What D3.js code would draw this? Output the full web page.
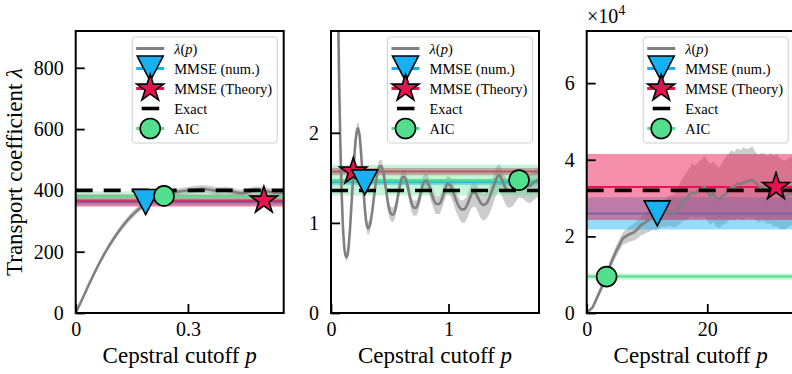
<!DOCTYPE html>
<html><head><meta charset="utf-8">
<script src="https://cdn.jsdelivr.net/npm/d3@7"></script>
<style>
html,body{margin:0;padding:0;background:#fff;}
svg{display:block;}
svg text{font-family:"Liberation Serif","Times New Roman",serif !important;}
</style></head><body>
<svg id="chart" width="792" height="374"></svg>
<script>
// ---- System 1: λ(p) with its confidence band ----
const p1   = [0,0.02,0.04,0.06,0.08,0.10,0.12,0.14,0.16,0.18,0.20,0.22,0.24,0.26,0.28,0.30,0.32,0.34,0.36,0.38,0.40,0.42,0.44,0.46,0.48,0.50,0.52,0.54,0.556];
const lam1 = [0,52,105,155,200,240,275,305,330,350,364,376,386,392,397,400,403,405,402,398,400,396,391,394,401,399,395,392,393];
const lo1  = [0,48,99,148,192,231,265,294,319,339,353,365,375,381,386,389,391,393,390,386,388,384,379,382,389,387,383,380,381];
const hi1  = [0,56,111,162,208,249,285,316,341,361,375,387,397,403,408,411,415,417,414,410,412,408,403,406,413,411,407,404,405];

// ---- System 2 ----
const p2   = [0.04,0.05,0.06,0.07,0.08,0.09,0.10,0.11,0.12,0.133,0.145,0.16,0.175,0.19,0.205,0.22,0.231,0.245,0.26,0.275,
              0.29,0.30,0.315,0.33,0.35,0.37,0.39,0.41,0.428,0.445,0.465,0.485,0.505,0.527,0.55,0.57,0.59,0.61,0.625,0.645,
              0.665,0.685,0.705,0.724,0.745,0.765,0.785,0.809,0.83,0.85,0.87,0.895,0.921,0.945,0.97,0.99,1.015,1.04,1.065,1.09,
              1.11,1.13,1.155,1.18,1.2,1.225,1.25,1.275,1.3,1.33,1.36,1.39,1.41,1.43,1.455,1.48,1.51,1.54,1.57,1.6,
              1.63,1.66,1.69,1.72,1.75,1.77];
const lam2 = [6.0,4.6,3.4,2.5,1.85,1.35,1.0,0.78,0.66,0.62,0.68,0.9,1.22,1.55,1.85,2.02,2.05,1.95,1.7,1.4,
              1.13,1.01,0.94,0.97,1.12,1.33,1.52,1.62,1.63,1.56,1.4,1.22,1.11,1.09,1.16,1.3,1.44,1.51,1.51,1.45,
              1.33,1.22,1.17,1.17,1.23,1.34,1.44,1.47,1.43,1.35,1.27,1.21,1.21,1.27,1.37,1.43,1.42,1.34,1.25,1.18,
              1.15,1.15,1.19,1.27,1.33,1.34,1.28,1.22,1.2,1.23,1.32,1.43,1.5,1.53,1.48,1.4,1.36,1.37,1.42,1.47,
              1.46,1.42,1.41,1.44,1.47,1.48];
const lo2  = [5.95,4.55,3.35,2.45,1.8,1.3,0.95,0.73,0.61,0.57,0.63,0.85,1.17,1.5,1.79,1.95,1.98,1.88,1.63,1.33,
              1.06,0.94,0.87,0.9,1.05,1.26,1.45,1.55,1.56,1.49,1.32,1.14,1.03,1.01,1.08,1.22,1.36,1.43,1.43,1.37,
              1.24,1.13,1.08,1.08,1.14,1.25,1.35,1.38,1.34,1.25,1.17,1.1,1.1,1.16,1.26,1.32,1.3,1.22,1.12,1.05,
              1.01,1.0,1.04,1.12,1.17,1.18,1.12,1.05,1.03,1.06,1.14,1.25,1.32,1.35,1.3,1.22,1.17,1.18,1.23,1.28,
              1.27,1.24,1.22,1.25,1.28,1.29];
const hi2  = [6.05,4.65,3.45,2.55,1.9,1.4,1.05,0.83,0.71,0.67,0.73,0.95,1.27,1.6,1.91,2.09,2.12,2.02,1.77,1.47,
              1.2,1.08,1.01,1.04,1.19,1.4,1.59,1.69,1.7,1.63,1.48,1.3,1.19,1.17,1.24,1.38,1.52,1.59,1.59,1.53,
              1.41,1.3,1.25,1.25,1.31,1.42,1.52,1.55,1.51,1.44,1.36,1.3,1.3,1.36,1.46,1.52,1.51,1.44,1.35,1.28,
              1.25,1.26,1.3,1.38,1.44,1.45,1.4,1.34,1.32,1.35,1.44,1.55,1.62,1.65,1.6,1.52,1.48,1.5,1.55,1.6,
              1.59,1.55,1.54,1.57,1.6,1.61];

// ---- System 3 ----
const p3   = [0,1,2,3,4,5,6,7,7.5,8,8.5,9,9.5,10,10.5,11,11.5,12,12.5,13,13.5,14,14.5,15,15.5,16,16.5,17,17.5,18,18.5,19,19.5,
              20,20.5,21,21.5,22,22.5,23,23.5,24,24.5,25,25.5,26,26.5,27,27.5,28,28.5,29,29.5,30,30.5,31,31.5,32,32.5,33,33.5,34,34.5];
const lam3 = [0,1500,5000,8500,13000,16500,19500,20500,20800,21200,22000,23000,23400,24000,24500,25000,24700,25500,26200,26000,26600,26300,26200,
              27000,27800,29200,29800,30800,31500,31200,32000,32200,33000,31800,30500,31200,30000,29500,30500,31000,32000,32800,33000,
              33800,33600,34000,34300,34500,34700,34000,33200,32800,33000,32500,32800,32000,32300,31500,30800,30500,31000,31200,31500];
const lo3  = [0,1000,4200,7500,11800,15000,17800,18500,18800,19000,19500,20300,20500,21000,21300,21800,21500,22000,22500,22300,22800,22500,22300,
              22800,23200,24000,24200,24800,25200,24600,25000,24800,25500,24000,23000,23800,22500,22200,23000,23200,24000,24500,24000,
              25000,24500,24200,24800,25000,24600,24200,23500,24000,23800,23200,23500,22500,22800,22000,21800,22000,22500,23000,23500];
const hi3  = [0,2000,5800,9500,14200,18000,21000,22500,23000,23500,24300,25200,25800,26500,27000,27800,27500,28500,29500,29500,30500,30800,31000,
              32500,34000,35500,36500,37800,39000,38500,39500,40000,41000,39800,38800,39500,38500,38000,39500,40500,41500,42500,42000,
              43000,42500,43200,42800,43000,43500,42000,41200,41800,41500,41000,41800,41000,41500,40500,40000,39800,40500,40800,41000];

// ---- Estimators (one entry per system) ----
const exactVal  = [400, 1.36, 32000];
const numP      = [0.187, 0.287, 11.7];
const numVal    = [362, 1.45, 26000];
const numErr    = [10, 0.03, 4200];
const theoP     = [0.503, 0.19, 31.4];
const theoVal   = [367, 1.57, 32900];
const theoErr   = [20, 0.04, 8600];
const aicP      = [0.236, 1.6, 3.3];
const aicVal    = [382, 1.475, 9500];
const aicErr    = [15, 0.17, 800];

// ---- Axes ----
const xMax   = [0.556, 1.77, 34.5];
const yMax   = [920, 3.13, 73600];
const xTicks = [[0, 0.3], [0, 1], [0, 20]];
const yTicks = [[0, 200, 400, 600, 800], [0, 1, 2], [0, 20000, 40000, 60000]];
const legendLabels = ["λ(p)", "MMSE (num.)", "MMSE (Theory)", "Exact", "AIC"];

const series = [
  {p: p1, lam: lam1, lo: lo1, hi: hi1, curve: d3.curveMonotoneX},
  {p: p2, lam: lam2, lo: lo2, hi: hi2, curve: d3.curveMonotoneX},
  {p: p3, lam: lam3, lo: lo3, hi: hi3, curve: d3.curveLinear}
];

const FONT = '"Liberation Serif", "Times New Roman", serif';
const C = {gray: "#808080", blue: "#17b0f0", red: "#e8124f", green: "#52e08e"};
const svg = d3.select("#chart");
const lefts = [75.7, 331, 586.7];
const W = 208, T = 31, B = 313;
const tri = "M-13,-12.5L13,-12.5L0,12.5Z";
const star = d3.symbol(d3.symbolStar, 225)();

function fmtTick(i) {
  if (i === 2) return v => d3.format("d")(v / 1e4);
  return v => String(v);
}

series.forEach((s, i) => {
  const x = d3.scaleLinear().domain([0, xMax[i]]).range([lefts[i], lefts[i] + W]);
  const y = d3.scaleLinear().domain([0, yMax[i]]).range([B, T]);
  const g = svg.append("g");

  g.append("clipPath").attr("id", "clip" + i)
    .append("rect").attr("x", x.range()[0]).attr("y", T).attr("width", W).attr("height", B - T);
  const plot = g.append("g").attr("clip-path", `url(#clip${i})`);

  const idx = d3.range(s.p.length);
  // band around λ(p)
  plot.append("path")
    .attr("d", d3.area().curve(s.curve).x(j => x(s.p[j])).y0(j => y(s.lo[j])).y1(j => y(s.hi[j]))(idx))
    .attr("fill", C.gray).attr("fill-opacity", 0.4);

  // horizontal estimator lines with their uncertainty bands
  const hband = (v, e, col, op) => {
    plot.append("rect").attr("x", x.range()[0]).attr("width", W)
      .attr("y", y(v + e)).attr("height", y(v - e) - y(v + e))
      .attr("fill", col).attr("fill-opacity", op);
  };
  const hline = (v, col) => {
    plot.append("line").attr("x1", x.range()[0]).attr("x2", x.range()[1])
      .attr("y1", y(v)).attr("y2", y(v)).attr("stroke", col).attr("stroke-width", 2);
  };
  hband(numVal[i], numErr[i], C.blue, 0.45);
  hline(numVal[i], C.blue);
  hband(theoVal[i], theoErr[i], C.red, 0.48);
  hline(theoVal[i], C.red);
  hband(aicVal[i], aicErr[i], C.green, 0.35);
  hline(aicVal[i], C.green);

  // λ(p)
  plot.append("path")
    .attr("d", d3.line().curve(s.curve).x(j => x(s.p[j])).y(j => y(s.lam[j]))(idx))
    .attr("fill", "none").attr("stroke", C.gray).attr("stroke-width", 2.6);

  // exact value
  plot.append("line").attr("x1", x.range()[0]).attr("x2", x.range()[1])
    .attr("y1", y(exactVal[i])).attr("y2", y(exactVal[i]))
    .attr("stroke", "#000").attr("stroke-width", 3.6).attr("stroke-dasharray", "17,11");

  // markers
  g.append("path").attr("d", star)
    .attr("transform", `translate(${x(theoP[i])},${y(theoVal[i])})`)
    .attr("fill", C.red).attr("stroke", "#000").attr("stroke-width", 1.6);
  g.append("path").attr("d", tri)
    .attr("transform", `translate(${x(numP[i])},${y(numVal[i])})`)
    .attr("fill", C.blue).attr("stroke", "#000").attr("stroke-width", 1.6);
  g.append("circle").attr("cx", x(aicP[i])).attr("cy", y(aicVal[i])).attr("r", 10)
    .attr("fill", C.green).attr("stroke", "#000").attr("stroke-width", 1.6);

  // axes (inward ticks)
  const ax = g.append("g").attr("transform", `translate(0,${B})`)
    .call(d3.axisBottom(x).tickValues(xTicks[i]).tickSize(-9).tickPadding(9).tickFormat(d => String(d)));
  const ay = g.append("g").attr("transform", `translate(${x.range()[0]},0)`)
    .call(d3.axisLeft(y).tickValues(yTicks[i]).tickSize(-9).tickPadding(12).tickFormat(fmtTick(i)));
  [ax, ay].forEach(a => {
    a.attr("font-family", FONT).attr("font-size", 20);
    a.select(".domain").remove();
    a.selectAll("line").attr("stroke", "#000").attr("stroke-width", 1.8);
    a.selectAll("text").attr("fill", "#000");
  });

  // frame
  g.append("rect").attr("x", x.range()[0]).attr("y", T).attr("width", W).attr("height", B - T)
    .attr("fill", "none").attr("stroke", "#000").attr("stroke-width", 2);

  // x label
  const xl = g.append("text").attr("x", x.range()[0] + W / 2).attr("y", 363)
    .attr("text-anchor", "middle").attr("font-family", FONT).attr("font-size", 23);
  xl.append("tspan").text("Cepstral cutoff ");
  xl.append("tspan").attr("font-style", "italic").text("p");

  // legend
  const lx = x.range()[1] - 6.5 - 145, ly = T + 6;
  const lg = g.append("g");
  lg.append("rect").attr("x", lx).attr("y", ly).attr("width", 145).attr("height", 106).attr("rx", 3)
    .attr("fill", "#fff").attr("fill-opacity", 0.8).attr("stroke", "#d0d0d0").attr("stroke-width", 1);
  const rowY = k => ly + 11.5 + k * 20;
  const hx0 = lx + 4, hx1 = lx + 32, hxm = lx + 18;
  const seg = (k, col, w, a, b) => lg.append("line").attr("x1", a).attr("x2", b)
    .attr("y1", rowY(k)).attr("y2", rowY(k)).attr("stroke", col).attr("stroke-width", w);
  seg(0, C.gray, 3, hx0, hx1);
  seg(1, C.blue, 3, hx0, hx1);
  lg.append("path").attr("d", tri).attr("transform", `translate(${hxm},${rowY(1)})`)
    .attr("fill", C.blue).attr("stroke", "#000").attr("stroke-width", 1.6);
  seg(2, C.red, 3, hx0, hx1);
  lg.append("path").attr("d", star).attr("transform", `translate(${hxm},${rowY(2)})`)
    .attr("fill", C.red).attr("stroke", "#000").attr("stroke-width", 1.6);
  seg(3, "#000", 3.6, lx + 9.5, lx + 27);
  seg(4, C.green, 3, hx0, hx1);
  lg.append("circle").attr("cx", hxm).attr("cy", rowY(4)).attr("r", 10)
    .attr("fill", C.green).attr("stroke", "#000").attr("stroke-width", 1.6);
  legendLabels.forEach((lab, k) => {
    const t = lg.append("text").attr("x", lx + 42).attr("y", rowY(k) + 5)
      .attr("font-family", FONT).attr("font-size", 14.5);
    if (k === 0) {
      t.append("tspan").attr("font-style", "italic").text("λ");
      t.append("tspan").text("(");
      t.append("tspan").attr("font-style", "italic").text("p");
      t.append("tspan").text(")");
    } else {
      t.text(lab);
    }
  });
});

// y label on the first panel
const yl = svg.append("text").attr("transform", `translate(22,${(T + B) / 2}) rotate(-90)`)
  .attr("text-anchor", "middle").attr("font-family", FONT).attr("font-size", 23);
yl.append("tspan").text("Transport coefficient ");
yl.append("tspan").attr("font-style", "italic").text("λ");

// offset label of the third panel
const ox = svg.append("text").attr("x", 587).attr("y", 23).attr("font-family", FONT).attr("font-size", 20);
ox.append("tspan").text("×10");
ox.append("tspan").attr("dy", -8).attr("font-size", 14).text("4");
</script>
</body></html>
